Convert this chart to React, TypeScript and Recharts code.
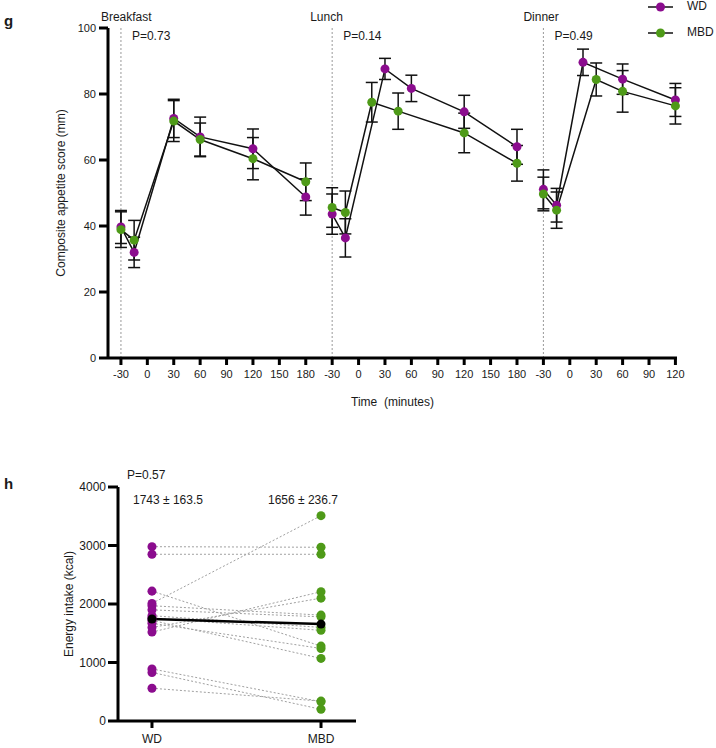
import {
  ComposedChart,
  ErrorBar,
  Line,
  LineChart,
  ReferenceLine,
  Scatter,
  XAxis,
  YAxis,
} from 'recharts'

const WD_COLOR = '#8b0c8e'
const MBD_COLOR = '#4e9a18'
const INK = '#1a1a1a'
const FONT = '"Liberation Sans", Arial, sans-serif'

// panel g: appetite around each meal
const meals = ['Breakfast', 'Lunch', 'Dinner']
const mealPValues = ['P=0.73', 'P=0.14', 'P=0.49']
const mealLabelShift = [-20, -22, -20]
const mealTickMinutes = [
  [-30, 0, 30, 60, 90, 120, 150, 180],
  [-30, 0, 30, 60, 90, 120, 150, 180],
  [-30, 0, 30, 60, 90, 120],
]

// minutes from meal start, mean score (mm), SEM
const breakfastWdMin = [-30, -15, 30, 60, 120, 180]
const breakfastWdMean = [39.7, 32.0, 72.6, 67.0, 63.4, 48.8]
const breakfastWdSem = [5.0, 4.6, 5.8, 6.0, 6.0, 5.5]
const breakfastMbdMin = [-30, -15, 30, 60, 120, 180]
const breakfastMbdMean = [38.9, 35.7, 71.8, 66.2, 60.4, 53.4]
const breakfastMbdSem = [5.4, 6.0, 6.2, 5.0, 6.4, 5.7]

const lunchWdMin = [-30, -15, 30, 60, 120, 180]
const lunchWdMean = [43.6, 36.4, 87.6, 81.7, 74.6, 64.0]
const lunchWdSem = [6.1, 5.8, 3.2, 4.0, 5.0, 5.3]
const lunchMbdMin = [-30, -15, 15, 45, 120, 180]
const lunchMbdMean = [45.6, 44.1, 77.5, 74.8, 68.2, 59.0]
const lunchMbdSem = [6.0, 6.5, 6.0, 5.5, 6.0, 5.4]

const dinnerWdMin = [-30, -15, 15, 60, 120]
const dinnerWdMean = [51.1, 46.3, 89.6, 84.5, 78.2]
const dinnerWdSem = [5.9, 5.1, 4.0, 4.6, 5.0]
const dinnerMbdMin = [-30, -15, 30, 60, 120]
const dinnerMbdMean = [49.7, 44.8, 84.4, 80.8, 76.4]
const dinnerMbdSem = [5.1, 5.5, 5.0, 6.3, 5.5]

const appetiteTicks = [0, 20, 40, 60, 80, 100]

// panel h: energy intake per participant (kcal)
const groups = ['WD', 'MBD']
const wdIntake = [2980, 2850, 2220, 2010, 1970, 1900, 1800, 1760, 1720, 1670, 1600, 1520, 890, 830, 560]
const mbdIntake = [2970, 2850, 1280, 3510, 1810, 1780, 1600, 1550, 1070, 1240, 2100, 2210, 330, 200, 340]
const meanIntake = [1743, 1656]
const meanLabels = ['1743 ± 163.5', '1656 ± 236.7']
const intakeP = 'P=0.57'
const intakeTicks = [0, 1000, 2000, 3000, 4000]

const mealOffsets = mealTickMinutes.map((_, m) =>
  mealTickMinutes.slice(0, m).reduce((s, t) => s + t.length, 0)
)
const toSlot = (meal: number, min: number) => mealOffsets[meal] + (min + 30) / 30

const xTicks = mealTickMinutes.flatMap((mins, m) => mins.map((min) => toSlot(m, min)))
const xTickLabels = mealTickMinutes.flat().map(String)

const series = [
  { meal: 0, color: WD_COLOR, min: breakfastWdMin, mean: breakfastWdMean, sem: breakfastWdSem },
  { meal: 1, color: WD_COLOR, min: lunchWdMin, mean: lunchWdMean, sem: lunchWdSem },
  { meal: 2, color: WD_COLOR, min: dinnerWdMin, mean: dinnerWdMean, sem: dinnerWdSem },
  { meal: 0, color: MBD_COLOR, min: breakfastMbdMin, mean: breakfastMbdMean, sem: breakfastMbdSem },
  { meal: 1, color: MBD_COLOR, min: lunchMbdMin, mean: lunchMbdMean, sem: lunchMbdSem },
  { meal: 2, color: MBD_COLOR, min: dinnerMbdMin, mean: dinnerMbdMean, sem: dinnerMbdSem },
]

const axisStyle = { stroke: '#000', strokeWidth: 3 }
const tickFont = { fontSize: 11, fill: INK, fontFamily: FONT }

function AppetiteChart() {
  return (
    <LineChart
      width={716}
      height={420}
      margin={{ top: 28, right: 39, bottom: 12, left: 48 }}
      style={{ position: 'absolute', left: 0, top: 0 }}
    >
      <XAxis
        type="number"
        dataKey="x"
        domain={[-0.49, 21.06]}
        ticks={xTicks}
        interval={0}
        tickFormatter={(v: number) => xTickLabels[xTicks.indexOf(v)]}
        axisLine={axisStyle}
        tickLine={axisStyle}
        tickSize={7}
        tickMargin={5}
        tick={tickFont}
        height={50}
        label={{
          content: ({ viewBox }: any) => (
            <text
              x={viewBox.x + viewBox.width / 2}
              y={viewBox.y + 48}
              textAnchor="middle"
              fontSize={12}
              fill={INK}
              fontFamily={FONT}
            >
              {'Time\u00a0\u00a0(minutes)'}
            </text>
          ),
        }}
      />
      <YAxis
        type="number"
        domain={[0, 100]}
        ticks={appetiteTicks}
        interval={0}
        axisLine={axisStyle}
        tickLine={axisStyle}
        tickSize={9}
        tickMargin={3}
        tick={tickFont}
        width={60}
        label={{
          content: ({ viewBox }: any) => {
            const cx = viewBox.x + 14
            const cy = viewBox.y + viewBox.height / 2
            return (
              <text
                x={cx}
                y={cy}
                transform={`rotate(-90 ${cx} ${cy})`}
                textAnchor="middle"
                dominantBaseline="middle"
                fontSize={12}
                fill={INK}
                fontFamily={FONT}
              >
                Composite appetite score (mm)
              </text>
            )
          },
        }}
      />
      {meals.map((meal, m) => (
        <ReferenceLine
          key={meal}
          x={toSlot(m, -30)}
          stroke="#9a9a9a"
          strokeDasharray="2 2"
          strokeWidth={1}
          label={{
            content: ({ viewBox }: any) => (
              <g fontFamily={FONT} fill={INK}>
                <text x={viewBox.x + mealLabelShift[m]} y={viewBox.y - 7} fontSize={12}>
                  {meal}
                </text>
                <text x={viewBox.x + 11} y={viewBox.y + 12} fontSize={12}>
                  {mealPValues[m]}
                </text>
              </g>
            ),
          }}
        />
      ))}
      {series.map((s, k) => (
        <Line
          key={k}
          type="linear"
          data={s.min.map((min, i) => ({ x: toSlot(s.meal, min), y: s.mean[i], e: s.sem[i] }))}
          dataKey="y"
          stroke="#111"
          strokeWidth={1.5}
          dot={{ r: 4.5, fill: s.color, stroke: s.color, strokeWidth: 0 }}
          activeDot={false}
          isAnimationActive={false}
        >
          <ErrorBar dataKey="e" direction="y" width={6} stroke="#111" strokeWidth={1.5} />
        </Line>
      ))}
    </LineChart>
  )
}

function IntakeChart() {
  const pairs = wdIntake.map((wd, i) => [
    { x: 0, v: wd },
    { x: 1, v: mbdIntake[i] },
  ])
  return (
    <ComposedChart
      width={400}
      height={288}
      margin={{ top: 27, right: 44, bottom: 0, left: 48 }}
      style={{ position: 'absolute', left: 0, top: 460 }}
    >
      <XAxis
        type="number"
        dataKey="x"
        domain={[-0.201, 1.207]}
        ticks={[0, 1]}
        interval={0}
        tickFormatter={(v: number) => groups[v]}
        axisLine={axisStyle}
        tickLine={axisStyle}
        tickSize={7}
        tickMargin={6}
        tick={{ ...tickFont, fontSize: 12 }}
        height={27}
      />
      <YAxis
        type="number"
        domain={[0, 4000]}
        ticks={intakeTicks}
        interval={0}
        axisLine={axisStyle}
        tickLine={axisStyle}
        tickSize={10}
        tickMargin={2}
        tick={{ ...tickFont, fontSize: 12 }}
        width={70}
        label={{
          content: ({ viewBox }: any) => {
            const cx = viewBox.x + 22
            const cy = viewBox.y + viewBox.height / 2
            return (
              <text
                x={cx}
                y={cy}
                transform={`rotate(-90 ${cx} ${cy})`}
                textAnchor="middle"
                dominantBaseline="middle"
                fontSize={12}
                fill={INK}
                fontFamily={FONT}
              >
                Energy intake (kcal)
              </text>
            )
          },
        }}
      />
      {pairs.map((p, i) => (
        <Line
          key={i}
          data={p}
          dataKey="v"
          stroke="#a0a0a0"
          strokeWidth={1}
          strokeDasharray="2 2"
          dot={false}
          activeDot={false}
          isAnimationActive={false}
        />
      ))}
      <Scatter
        data={wdIntake.map((v) => ({ x: 0, v }))}
        dataKey="v"
        fill={WD_COLOR}
        isAnimationActive={false}
      />
      <Scatter
        data={mbdIntake.map((v) => ({ x: 1, v }))}
        dataKey="v"
        fill={MBD_COLOR}
        isAnimationActive={false}
      />
      <Line
        data={meanIntake.map((v, i) => ({ x: i, v }))}
        dataKey="v"
        stroke="#000"
        strokeWidth={2.5}
        dot={{ r: 4.5, fill: '#000', stroke: '#000', strokeWidth: 0 }}
        activeDot={false}
        isAnimationActive={false}
      />
    </ComposedChart>
  )
}

function LegendBox() {
  const rows = [
    { name: 'WD', color: WD_COLOR, y: 7 },
    { name: 'MBD', color: MBD_COLOR, y: 33 },
  ]
  return (
    <svg width={80} height={45} style={{ position: 'absolute', left: 640, top: 0 }}>
      {rows.map((r) => (
        <g key={r.name}>
          <line x1={8} x2={33} y1={r.y} y2={r.y} stroke="#111" strokeWidth={1.5} />
          <circle cx={20.5} cy={r.y} r={4.5} fill={r.color} />
          <text
            x={47}
            y={r.y}
            dominantBaseline="middle"
            fontSize={12}
            fill={INK}
            fontFamily={FONT}
          >
            {r.name}
          </text>
        </g>
      ))}
    </svg>
  )
}

const textStyle = {
  position: 'absolute' as const,
  fontFamily: FONT,
  fontSize: 12,
  color: INK,
  lineHeight: '14px',
  whiteSpace: 'nowrap' as const,
}

export default function App() {
  return (
    <div
      style={{
        position: 'absolute',
        left: 0,
        top: 0,
        width: 716,
        height: 748,
        background: '#fff',
        overflow: 'hidden',
      }}
    >
      <AppetiteChart />
      <LegendBox />
      <div style={{ ...textStyle, left: 4, top: 14, fontSize: 15, fontWeight: 700 }}>g</div>
      <IntakeChart />
      <div style={{ ...textStyle, left: 4, top: 477, fontSize: 15, fontWeight: 700 }}>h</div>
      <div style={{ ...textStyle, left: 127, top: 468 }}>{intakeP}</div>
      <div style={{ ...textStyle, left: 133, top: 493 }}>{meanLabels[0]}</div>
      <div style={{ ...textStyle, left: 268, top: 493 }}>{meanLabels[1]}</div>
    </div>
  )
}
